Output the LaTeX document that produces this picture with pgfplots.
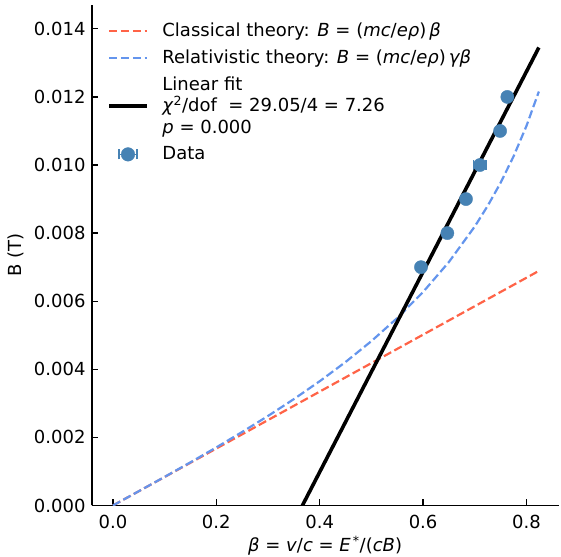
\documentclass[border=0pt]{standalone}
\usepackage{fontspec}
\setmainfont{DejaVu Sans}
\usepackage{pgfplots}
\pgfplotsset{compat=1.18}
\definecolor{tomato}{HTML}{FF6347}
\definecolor{cfblue}{HTML}{6495ED}
\definecolor{steel}{HTML}{4682B4}
\newcommand{\mi}[1]{\textit{#1}}
\newcommand{\fs}{\fontsize{18}{21.6}\selectfont}
\pgfplotsset{
  mylinelegend/.style={legend image code/.code={\draw[##1] (0pt,0pt) -- (38pt,0pt);}},
  mydatalegend/.style={legend image code/.code={
    \draw[steel, line width=1.3pt] (10pt,0pt) -- (28pt,0pt);
    \draw[steel, line width=1.3pt] (10pt,-5pt) -- (10pt,5pt) (28pt,-5pt) -- (28pt,5pt);
    \fill[steel] (19pt,0pt) circle (6.8pt);}},
}

\pgfplotstableread{
x y ex
0.596 0.007 0.004
0.647 0.008 0.004
0.683 0.009 0.004
0.710 0.010 0.012
0.749 0.011 0.004
0.763 0.012 0.004
}\datatable

\begin{document}
\fs
\begin{tikzpicture}
\useasboundingbox (-91.7pt,-50.5pt) rectangle (469.3pt,505.5pt);
\begin{axis}[
  at={(0pt,0pt)}, anchor=south west,
  scale only axis, width=466.8pt, height=500.5pt,
  xmin=-0.041, xmax=0.862, ymin=0, ymax=0.0147,
  axis x line*=bottom, axis y line*=left,
  axis line style={line width=1.8pt, -},
  tick align=inside,
  major tick length=6pt,
  every tick/.style={black, line width=1.3pt},
  xtick={0,0.2,0.4,0.6,0.8},
  ytick={0,0.002,0.004,0.006,0.008,0.010,0.012,0.014},
  scaled y ticks=false, scaled x ticks=false,
  xticklabel style={yshift=-3.5pt, font=\fs, /pgf/number format/fixed, /pgf/number format/fixed zerofill, /pgf/number format/precision=1, /pgf/number format/assume math mode=true},
  yticklabel style={font=\fs, /pgf/number format/fixed, /pgf/number format/fixed zerofill, /pgf/number format/precision=3, /pgf/number format/assume math mode=true},
  label style={font=\fs},
  xlabel={\mi{β} = \mi{v}/\mi{c} = \mi{E}\textsuperscript{\,*}/(\mi{cB})},
  ylabel={B (T)},
  every axis x label/.style={at={(axis description cs:0.5,-0.0929)}, anchor=base},
  every axis y label/.style={at={(axis description cs:-0.1622,0.5)}, anchor=center, rotate=90},
  legend cell align=left,
  legend style={draw=none, fill=none, at={(rel axis cs:0,1)}, anchor=north west,
    xshift=15.3pt, yshift=-17.2pt, inner sep=0pt, row sep=10.5pt, column sep=13.6pt,
    nodes={inner xsep=0pt, inner ysep=0pt},
    font=\fs},
]
% data (drawn first, below the lines)
\addplot[only marks, mark=*, mark size=6.6pt, mark options={draw=steel, fill=steel},
  forget plot,
  error bars/.cd, x dir=both, x explicit, error mark=|,
  error bar style={steel, line width=1.3pt},
  error mark options={steel, line width=1.3pt, mark size=5pt}]
  table[x=x, y=y, x error=ex] {\datatable};

\addplot[tomato, line width=2.2pt, dash pattern=on 8.3pt off 3.6pt, mylinelegend]
  coordinates {(0,0) (0.824,0.00689)};
\addlegendentry{Classical theory: \mi{B} = (\mi{mc}/\mi{eρ})\,\mi{β}}

\addplot[cfblue, line width=2.2pt, dash pattern=on 8.3pt off 3.6pt, mylinelegend]
  coordinates {
  (0,0) (0.05,0.000419) (0.1,0.000840) (0.15,0.001268) (0.2,0.001706)
  (0.25,0.002159) (0.3,0.002629) (0.35,0.003124) (0.4,0.003649)
  (0.45,0.004213) (0.5,0.004827) (0.55,0.005505) (0.6,0.006270)
  (0.65,0.007151) (0.7,0.008194) (0.725,0.008800) (0.75,0.009479)
  (0.775,0.010252) (0.8,0.011147) (0.824,0.012158)};
\addlegendentry{Relativistic theory: \mi{B} = (\mi{mc}/\mi{eρ})\,\mi{γβ}}

\addplot[black, line width=3.6pt, mylinelegend]
  coordinates {(0,-0.01078) (0.824,0.01345)};
\addlegendentry{\vbox{\baselineskip=21.6pt\hbox{Linear fit}\hbox{\mi{χ}\textsuperscript{2}/dof\ \ = 29.05/4 = 7.26}\hbox{\mi{p} = 0.000}}}

\addlegendimage{mydatalegend}
\addlegendentry{Data}
\end{axis}
\end{tikzpicture}
\end{document}
